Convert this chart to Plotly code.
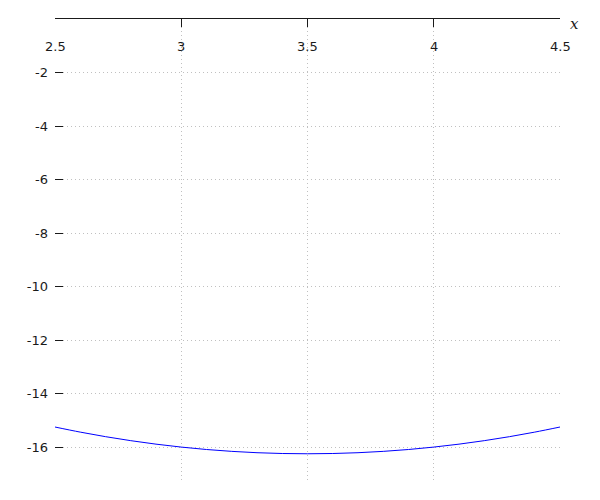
import plotly.graph_objects as go

x_vals = [2.5, 2.6, 2.7, 2.8, 2.9, 3.0, 3.1, 3.2, 3.3, 3.4, 3.5,
          3.6, 3.7, 3.8, 3.9, 4.0, 4.1, 4.2, 4.3, 4.4, 4.5]
y_vals = [-15.25, -15.44, -15.61, -15.76, -15.89, -16.0, -16.09, -16.16, -16.21, -16.24, -16.25,
          -16.24, -16.21, -16.16, -16.09, -16.0, -15.89, -15.76, -15.61, -15.44, -15.25]
x_ticks = [2.5, 3, 3.5, 4, 4.5]
x_tick_labels = ["2.5", "3", "3.5", "4", "4.5"]
y_ticks = [-2, -4, -6, -8, -10, -12, -14, -16]
y_tick_labels = ["-2", "-4", "-6", "-8", "-10", "-12", "-14", "-16"]

fig = go.Figure()
fig.add_trace(go.Scatter(x=x_vals, y=y_vals, mode="lines",
                         line=dict(color="#0000ff", width=1, shape="spline"),
                         hoverinfo="skip"))

font = dict(family="DejaVu Sans", size=13, color="#1a1a1a")
grid = dict(showgrid=True, gridcolor="#c0c0c0", griddash="1px,3px", gridwidth=1, zeroline=False)
fig.update_layout(
    width=592, height=492,
    margin=dict(l=47, r=40, t=11, b=20, autoexpand=False),
    paper_bgcolor="white", plot_bgcolor="white",
    showlegend=False,
    font=font,
    xaxis=dict(range=[2.5, 4.5], side="top", showline=True, linecolor="#1a1a1a", linewidth=1,
               ticks="inside", ticklen=8, tickcolor="#1a1a1a", tickwidth=1,
               tickvals=x_ticks, showticklabels=False, automargin=False, **grid),
    yaxis=dict(range=[-17.23, 0], showline=False, automargin=False,
               ticks="inside", ticklen=8, tickcolor="#1a1a1a", tickwidth=1,
               tickvals=y_ticks, ticktext=y_tick_labels, ticklabelstandoff=6,
               tickfont=font, **grid),
)
for xv, lab in zip(x_ticks, x_tick_labels):
    fig.add_annotation(text=lab, x=xv, xref="x", y=1.0, yref="paper",
                       xanchor="center", yanchor="middle", yshift=-27, showarrow=False,
                       font=font)
fig.add_annotation(text="<i>x</i>", x=1.0, y=1.0, xref="paper", yref="paper",
                   xanchor="left", yanchor="middle", xshift=8, yshift=-5, showarrow=False,
                   font=dict(family="DejaVu Serif", size=15, color="#1a1a1a"))
fig.write_html("out.html")
